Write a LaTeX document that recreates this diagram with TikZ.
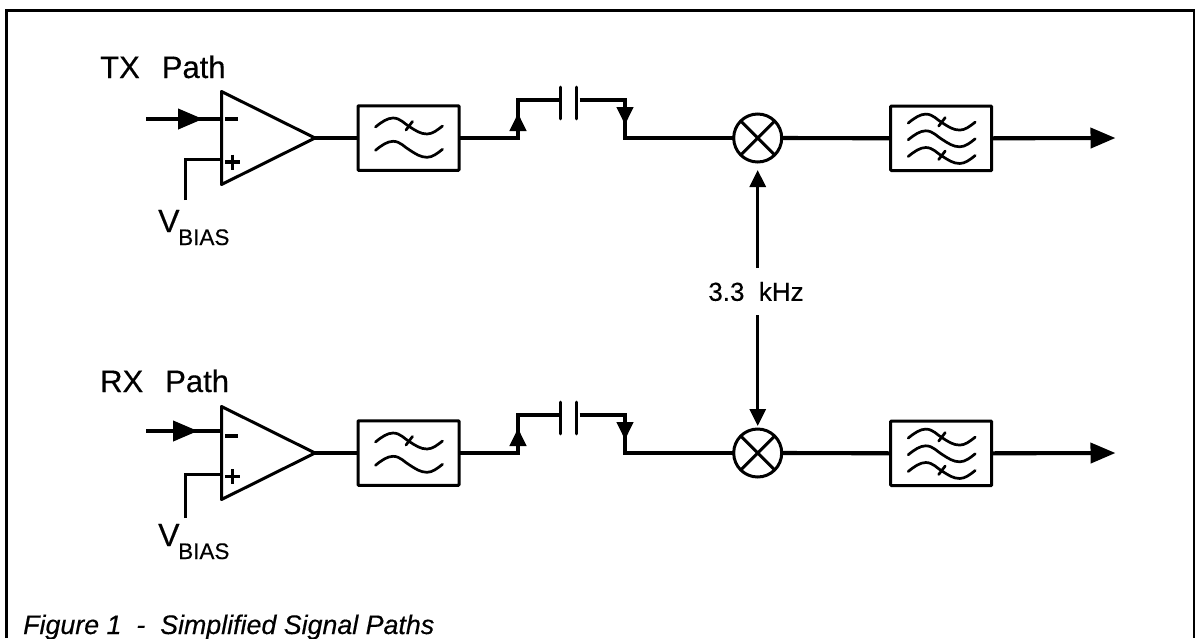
\documentclass[tikz,border=0pt]{standalone}
\usepackage{fontspec}
\setmainfont[FakeBold=0.35]{Liberation Sans}
\usetikzlibrary{arrows.meta}
\newcommand{\wavecurve}[1]{\draw[waveline,shift={(0,#1)}] (-33,-11) .. controls (-27,-16) and (-21,-20) .. (-15.5,-20) .. controls (-8,-20) and (-4,-14) .. (1.5,-11) .. controls (7,-7.5) and (12,-4) .. (18.5,-4) .. controls (24,-4) and (29,-8) .. (34,-12);}
\newcommand{\wavetick}[1]{\draw[waveline,shift={(0,#1)}] (-2.5,-8) -- (4,-16.5);}
\tikzset{
  x=1pt,y=-1pt,
  sig/.style={line width=4.1pt,line join=miter},
  thinsig/.style={line width=3pt},
  outline/.style={line width=3pt,line join=round},
  waveline/.style={line width=2.7pt,line cap=round},
  filterbox/.style={draw,line width=3pt,rounded corners=0.8pt,minimum width=101pt,minimum height=64.5pt,inner sep=0pt,outer sep=0pt},
  mixer/.style={draw,circle,line width=3pt,minimum size=48pt,inner sep=0pt,outer sep=0pt},
  bigtip/.style={-{Triangle[length=25pt,width=20pt]}},
  medtip/.style={-{Triangle[length=18pt,width=16pt]}},
  smalltip/.style={-{Triangle[length=17pt,width=16pt]}},
  heading/.style={anchor=base west,inner sep=0pt,font=\fontsize{31}{34}\selectfont},
  vsym/.style={anchor=base west,inner sep=0pt,font=\fontsize{32}{35}\selectfont},
  vsub/.style={anchor=base west,inner sep=0pt,font=\fontsize{22.5}{25}\selectfont},
  lowpass/.pic={\wavecurve{0}\wavecurve{23.3}\wavetick{0}},
  bandpass/.pic={\wavecurve{-4.2}\wavecurve{12.5}\wavecurve{29.2}\wavetick{-4.2}\wavetick{29.2}},
}
\begin{document}
\begin{tikzpicture}
\useasboundingbox (0,0) rectangle (1195,638);
% frame
\draw[line width=3pt] (6,638) -- (6,10.5) -- (1194,10.5) -- (1194,638);
% the two signal paths
\foreach \p/\y/\lab/\tipx/\iny/\miny/\plusy/\vy/\vend/\vb/\sb/\hb in
  {tx/138/TX/203/119/119/162/159.5/200/232/245/78,
   rx/453/RX/198/431/436/476.5/474.7/518/546/559/392}{
  % amplifier
  \draw[outline] (221.5,\y-46.5) -- (315,\y) -- (221.5,\y+46.5) -- cycle;
  \coordinate (\p out) at (315,\y);
  \coordinate (\p inA) at (146,\iny);
  \coordinate (\p inB) at (\tipx,\iny);
  \coordinate (\p inC) at (221.5,\iny);
  \coordinate (\p bA) at (185,\vend);
  \coordinate (\p bB) at (221.5,\vy);
  \draw[sig] (\p inA) -- (\p inC);
  \draw[sig,bigtip] (\p inA) -- (\p inB);
  \draw[thinsig] (\p bA) |- (\p bB);
  \draw[line width=3.2pt] (225,\miny) -- (238,\miny);
  \draw[line width=3.2pt] (225,\plusy) -- (239.5,\plusy) (232.3,\plusy-7.5) -- (232.3,\plusy+7.5);
  % labels
  \node[heading] (\p lab) at (100,\hb) {\lab\hspace{22pt}Path};
  \node[vsym] (\p v) at (158,\vb) {V};
  \node[vsub] (\p vs) at (178,\sb) {BIAS};
  % filters, mixer
  \node[filterbox] (\p fa) at (408.5,\y) {};
  \pic at (\p fa) {lowpass};
  \node[filterbox] (\p fb) at (941.2,\y+0.3) {};
  \pic at (\p fb) {bandpass};
  \node[mixer] (\p m) at (757.7,\y) {};
  \draw[line width=3pt] (\p m.45) -- (\p m.225) (\p m.135) -- (\p m.315);
  % capacitor
  \coordinate (\p ca) at (560.5,\y-38);
  \coordinate (\p cb) at (576.5,\y-38);
  \draw[line width=2.8pt,line cap=round] (560.5,\y-51) -- (560.5,\y-19) (576.5,\y-51) -- (576.5,\y-19);
  % connectors
  \coordinate (\p uA) at (518,\y);
  \coordinate (\p uB) at (518,\y-25);
  \coordinate (\p dA) at (625,\y-38);
  \coordinate (\p dB) at (625,\y-13);
  \coordinate (\p dC) at (625,\y);
  \coordinate (\p end) at (1115.5,\y);
  \draw[sig] (\p out) -- (\p fa.west);
  \draw[sig] (\p fa.east) -- (\p uA) |- (\p ca);
  \draw[sig,medtip] (\p uA) -- (\p uB);
  \draw[sig] ([xshift=3pt]\p cb) -- (\p dA) -- (\p dC) -- (\p m.west);
  \draw[sig,medtip] (\p dA) -- (\p dB);
  \draw[sig] (\p m.east) -- (\p fb.west);
  \draw[sig,bigtip] (\p fb.east) -- (\p end);
}
% shared clock
\node[inner sep=0pt,outer sep=0pt,minimum height=47pt,font=\fontsize{26}{29}\selectfont] (freq) at (756,291.5) {3.3\ \ kHz};
\draw[line width=3pt,smalltip,shorten >=8pt] (freq.north -| txm) -- (txm.south);
\draw[line width=3pt,smalltip,shorten >=3pt] (freq.south -| rxm) -- (rxm.north);
% caption
\node[anchor=base west,inner sep=0pt,font=\itshape\fontsize{26.8}{30}\selectfont] (caption) at (23,634) {Figure 1\ \ -\ \ Simplified Signal Paths};
\end{tikzpicture}
\end{document}
